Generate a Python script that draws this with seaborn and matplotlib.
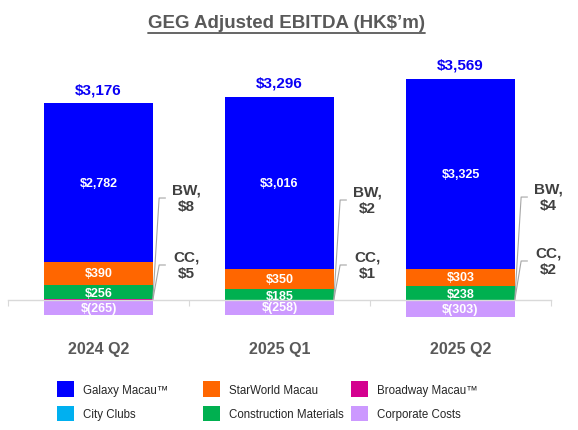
import matplotlib
matplotlib.use('Agg')
import matplotlib.pyplot as plt
import seaborn as sns
import numpy as np
import pandas as pd
from matplotlib.patches import Patch
from matplotlib.lines import Line2D

# ---------------- data ----------------
periods = ['2024 Q2', '2025 Q1', '2025 Q2']
galaxy = [2782, 3016, 3325]
starworld = [390, 350, 303]
broadway = [8, 2, 4]
city_clubs = [5, 1, 2]
construction = [256, 185, 238]
corporate = [-265, -258, -303]
totals = [3176, 3296, 3569]

series_names = ['Galaxy Macau\u2122', 'StarWorld Macau', 'Broadway Macau\u2122',
                'City Clubs', 'Construction Materials', 'Corporate Costs']
series_colors = ['#0000FF', '#FF6600', '#D4008F', '#00B0F0', '#00B050', '#CC99FF']
title_text = 'GEG Adjusted EBITDA (HK$\u2019m)'

# label layout (data-space heights of the BW / CC call-outs)
bw_label_y = [1783, 1748, 1800]
cc_label_y = [612, 612, 682]

# ---------------- style ----------------
sns.set_style('white')
plt.rcParams['font.family'] = ['Liberation Sans', 'DejaVu Sans']

W, H = 578, 431
fig = plt.figure(figsize=(W / 100, H / 100), dpi=100)
ax = fig.add_axes([8 / W, (H - 330) / H, 543 / W, 290 / H])

c_gal, c_star, c_bw, c_cc, c_con, c_corp = series_colors

# stacking order bottom -> top: City Clubs, Broadway, Construction, StarWorld, Galaxy
cc_top = np.array(city_clubs)
bw_top = cc_top + np.array(broadway)
con_top = bw_top + np.array(construction)
star_top = con_top + np.array(starworld)
gal_top = star_top + np.array(galaxy)

df = pd.DataFrame({'period': periods, 'gal': gal_top, 'star': star_top,
                   'con': con_top, 'bw': bw_top, 'cc': cc_top, 'corp': corporate})

for col, color in [('gal', c_gal), ('star', c_star), ('con', c_con),
                   ('bw', c_bw), ('cc', c_cc), ('corp', c_corp)]:
    sns.barplot(data=df, x='period', y=col, color=color, saturation=1,
                width=0.6, errorbar=None, edgecolor='none', linewidth=0, ax=ax)

ax.set_xlim(-0.5, 2.5)
ax.set_ylim(-507, 4563)
ax.set_xlabel('')
ax.set_ylabel('')
ax.set_yticks([])

# ---------------- segment labels ----------------
lab_kw = dict(ha='center', va='center', color='white', fontsize=9, fontweight='bold')
for i in range(3):
    ax.text(i, (star_top[i] + gal_top[i]) / 2, f'${galaxy[i]:,}', **lab_kw)
    ax.text(i, (con_top[i] + star_top[i]) / 2, f'${starworld[i]:,}', **lab_kw)
    ax.text(i, (bw_top[i] + con_top[i]) / 2 - 20, f'${construction[i]:,}', **lab_kw)
    ax.text(i, corporate[i] / 2, f'$({abs(corporate[i])})', **lab_kw)
    ax.annotate(f'${totals[i]:,}', xy=(i, gal_top[i]), xytext=(0, 7.2),
                textcoords='offset points', ha='center', va='baseline',
                fontsize=11, fontweight='bold', color='#0A00F5')
    right = i + 0.3
    for yl, txt in [(bw_label_y[i], f'BW,\n${broadway[i]}'),
                    (cc_label_y[i], f'CC,\n${city_clubs[i]}')]:
        ax.plot([right, right + 0.035, right + 0.072], [0, yl, yl],
                color='#A6A6A6', lw=0.8, solid_capstyle='butt')
        ax.text(right + 0.185, yl, txt, ha='center', va='center', fontsize=11,
                fontweight='bold', color='#404040', linespacing=1.25)

# ---------------- axes ----------------
for s in ['top', 'right', 'left']:
    ax.spines[s].set_visible(False)
ax.spines['bottom'].set_position(('data', 0))
ax.spines['bottom'].set_color('#D9D9D9')
ax.spines['bottom'].set_linewidth(1)
ax.set_xticks([-0.5, 0.5, 1.5, 2.5])
ax.set_xticklabels([])
ax.set_xticks([0, 1, 2], minor=True)
ax.set_xticklabels(periods, minor=True)
ax.tick_params(axis='x', which='major', length=4.3, width=0.8, color='#D9D9D9',
               direction='out', bottom=True)
ax.tick_params(axis='x', which='minor', length=0, pad=29.5, labelsize=11.5,
               labelcolor='#595959', bottom=True)
for lbl in ax.get_xticklabels(minor=True):
    lbl.set_fontweight('bold')

# ---------------- legend (three columns) ----------------
col_x = [57, 203, 351]
col_entries = [[0, 3], [1, 4], [2, 5]]
for cx, idxs in zip(col_x, col_entries):
    handles = [Patch(facecolor=series_colors[k], edgecolor='none') for k in idxs]
    labels = [series_names[k] for k in idxs]
    leg = fig.legend(handles, labels, loc='upper left',
                     bbox_to_anchor=(cx / W, (H - 382) / H),
                     frameon=False, borderpad=0, borderaxespad=0,
                     handlelength=1.44, handleheight=1.70, handletextpad=0.81,
                     labelspacing=0.81, fontsize=8.3)

# ---------------- title with underline ----------------
t = fig.text(286.5 / W, 1 - 24 / H, title_text, ha='center', va='center',
             fontsize=13.5, fontweight='bold', color='#595959')
fig.canvas.draw()
bb = t.get_window_extent()
fig.add_artist(Line2D([bb.x0 / W, bb.x1 / W], [(H - 33.5) / H] * 2,
                      transform=fig.transFigure, color='#595959', lw=1.3))

fig.savefig('out.png', dpi=100)
